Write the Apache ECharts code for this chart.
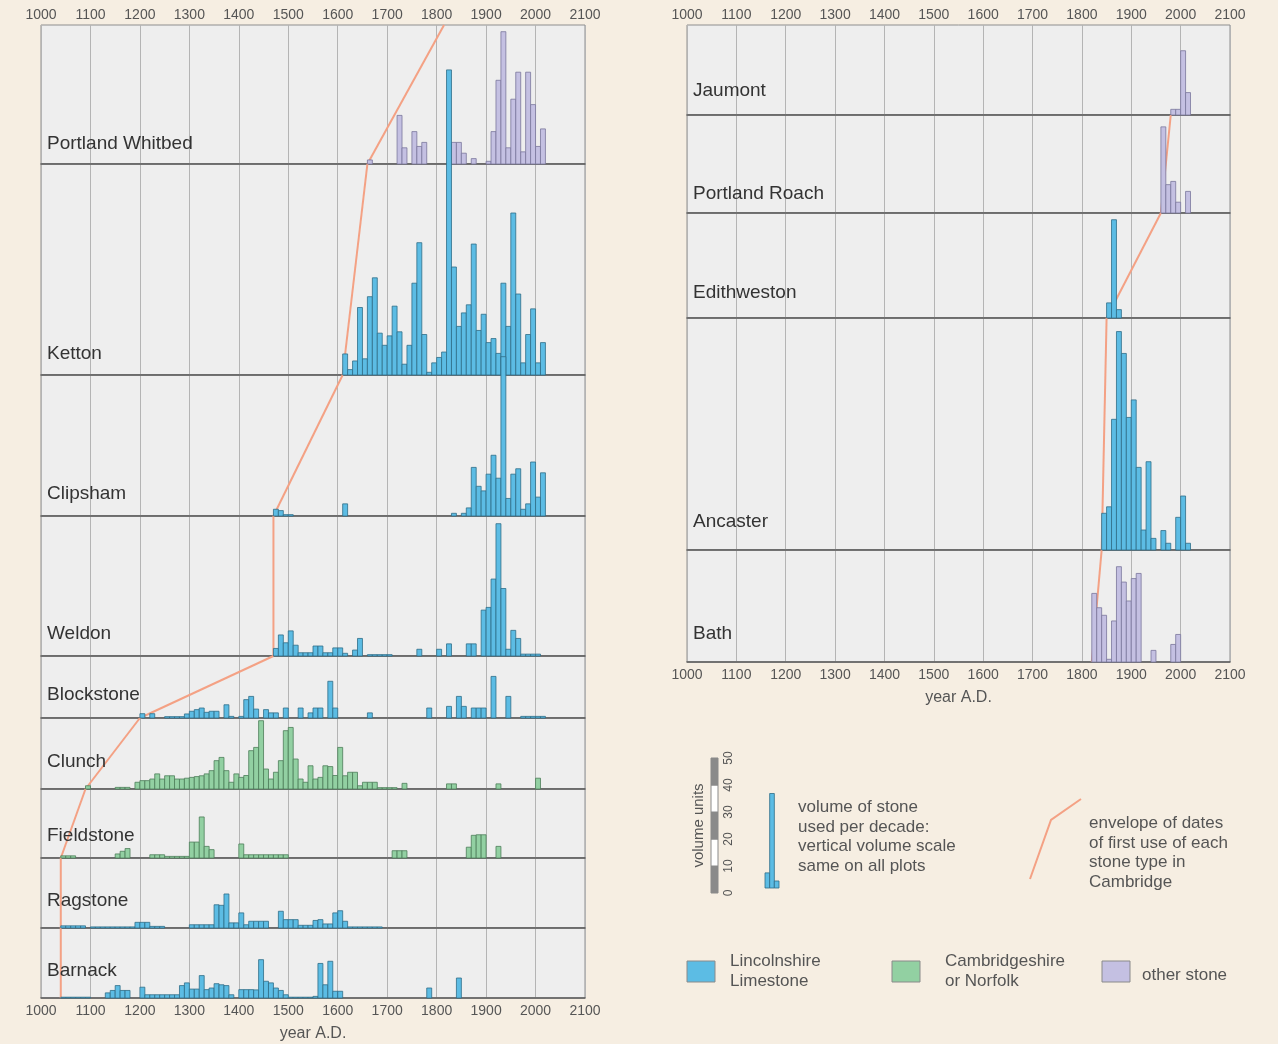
<!DOCTYPE html>
<html>
<head>
<meta charset="utf-8">
<script src="https://cdn.jsdelivr.net/npm/echarts@6/dist/echarts.min.js"></script>
<style>
  html, body { margin: 0; padding: 0; background: #f6eee2; }
  #chart { width: 1278px; height: 1044px; }
</style>
</head>
<body>
<div id="chart"></div>
<script>
// ---- axis settings -------------------------------------------------------
const yearMin = 1000;
const yearMax = 2100;
const yearStep = 100;
const decade = 10;
// one volume unit drawn as this many px on every plot
const PX_PER_UNIT = 2.7;

// ---- volume of stone used per decade: [decade start, volume units] -------
const portlandWhitbed = [[1660,1.5],[1720,18],[1730,6],[1750,12],[1760,6.5],[1770,8],[1830,8],[1840,8],[1850,4],[1870,2],[1900,1],[1910,12],[1920,31],[1930,49],[1940,6],[1950,24],[1960,34],[1970,4.5],[1980,34],[1990,22],[2000,6.5],[2010,13]];
const ketton = [[1610,7.8],[1620,2],[1630,5.2],[1640,25],[1650,6],[1660,29],[1670,36],[1680,15.5],[1690,11],[1700,14.5],[1710,25.5],[1720,16],[1730,4],[1740,11],[1750,34],[1760,49],[1770,15],[1780,1],[1790,4.5],[1800,6.5],[1810,8.5],[1820,113],[1830,40],[1840,18],[1850,23],[1860,26],[1870,48.5],[1880,16.5],[1890,22.5],[1900,12],[1910,13.5],[1920,8],[1930,34],[1940,18],[1950,60],[1960,30],[1970,4.5],[1980,15],[1990,24.5],[2000,4.5],[2010,12]];
const clipsham = [[1470,2.5],[1480,2],[1490,0.5],[1500,0.5],[1610,4.5],[1830,1],[1850,1],[1860,3],[1870,18],[1880,11],[1890,9.3],[1900,15.5],[1910,22.5],[1920,14],[1930,59],[1940,6.5],[1950,15.5],[1960,17.5],[1970,2.5],[1980,4.5],[1990,20],[2000,7],[2010,16]];
const weldon = [[1470,2.8],[1480,7.8],[1490,4.9],[1500,9.3],[1510,4],[1520,1.2],[1530,1.2],[1540,1.2],[1550,3.7],[1560,3.7],[1570,1.2],[1580,1.2],[1590,3],[1600,3],[1610,1],[1630,2.2],[1640,6.5],[1660,0.5],[1670,0.5],[1680,0.5],[1690,0.5],[1700,0.5],[1760,2.5],[1800,2.5],[1820,4.5],[1860,4.5],[1870,4.5],[1890,17],[1900,18],[1910,28.5],[1920,49],[1930,25],[1940,2.5],[1950,9.5],[1960,6.5],[1970,0.7],[1980,0.7],[1990,0.7],[2000,0.7]];
const blockstone = [[1200,1.6],[1220,1.6],[1250,0.5],[1260,0.5],[1270,0.5],[1280,0.5],[1290,1.5],[1300,2.5],[1310,3.1],[1320,3.7],[1330,2.1],[1340,2.5],[1350,2.5],[1370,4.9],[1380,0.6],[1400,0.6],[1410,6.8],[1420,8],[1430,3.3],[1450,3.1],[1460,1.9],[1470,1.9],[1490,3.7],[1520,3.7],[1540,1.9],[1550,3.7],[1560,3.7],[1580,13.6],[1590,3.7],[1660,1.9],[1780,3.7],[1820,4.3],[1840,8],[1850,4.3],[1870,3.7],[1880,3.7],[1890,3.7],[1910,15.4],[1940,8],[1970,0.6],[1980,0.6],[1990,0.6],[2000,0.6],[2010,0.6]];
const clunch = [[1090,1.2],[1150,0.6],[1160,0.6],[1170,0.6],[1190,2.5],[1200,3.1],[1210,3.1],[1220,3.7],[1230,5.6],[1240,3.7],[1250,4.9],[1260,4.9],[1270,3.7],[1280,3.7],[1290,4],[1300,4.3],[1310,4.6],[1320,4.9],[1330,5.6],[1340,6.8],[1350,10.5],[1360,11.7],[1370,6.8],[1380,2.5],[1390,5.6],[1400,4.3],[1410,5],[1420,14.2],[1430,15.4],[1440,25.3],[1450,7.4],[1460,3.7],[1470,6.2],[1480,10.5],[1490,21.6],[1500,22.8],[1510,11.1],[1520,3.7],[1530,2.5],[1540,8.6],[1550,3.7],[1560,4.3],[1570,8.6],[1580,8.3],[1590,5],[1600,15.4],[1610,4.9],[1620,6.2],[1630,6.2],[1640,1.2],[1650,2.5],[1660,2.5],[1670,2.5],[1680,0.5],[1690,0.5],[1700,0.5],[1710,0.5],[1730,2.1],[1820,1.9],[1830,1.9],[1920,1.9],[2000,4]];
const fieldstone = [[1040,0.8],[1050,0.8],[1060,0.8],[1150,1.5],[1160,2.5],[1170,3.5],[1220,1.2],[1230,1.2],[1240,1.2],[1250,0.6],[1260,0.6],[1270,0.6],[1280,0.6],[1290,0.6],[1300,5.9],[1310,5.9],[1320,15.2],[1330,4.3],[1340,3.1],[1400,5.2],[1410,1.2],[1420,1.2],[1430,1.2],[1440,1.2],[1450,1.2],[1460,1.2],[1470,1.2],[1480,1.2],[1490,1.2],[1710,2.7],[1720,2.7],[1730,2.7],[1860,4],[1870,8.4],[1880,8.6],[1890,8.6],[1920,4.3]];
const ragstone = [[1040,0.8],[1050,0.8],[1060,0.8],[1070,0.8],[1080,0.8],[1100,0.4],[1110,0.4],[1120,0.4],[1130,0.4],[1140,0.4],[1150,0.4],[1160,0.4],[1170,0.4],[1180,0.4],[1190,2.1],[1200,2.1],[1210,2.1],[1220,0.6],[1230,0.6],[1240,0.6],[1300,1.2],[1310,1.2],[1320,1.2],[1330,1.2],[1340,1.2],[1350,8.6],[1360,8.4],[1370,12.6],[1380,1.9],[1390,1.9],[1400,5.6],[1410,1.2],[1420,2.5],[1430,2.5],[1440,2.5],[1450,2.5],[1480,6.2],[1490,3.1],[1500,3.1],[1510,3.1],[1520,1],[1530,1],[1540,1],[1550,2.8],[1560,3.1],[1570,1.5],[1580,1.5],[1590,5.6],[1600,6.4],[1610,2.5],[1620,0.4],[1630,0.4],[1640,0.4],[1650,0.4],[1660,0.4],[1670,0.4],[1680,0.4]];
const barnack = [[1040,0.3],[1050,0.3],[1060,0.3],[1070,0.3],[1080,0.3],[1090,0.3],[1130,1.9],[1140,2.8],[1150,4.6],[1160,2.8],[1170,2.8],[1200,4],[1210,1.2],[1220,1.2],[1230,1.2],[1240,1.2],[1250,1.2],[1260,1.2],[1270,1.2],[1280,4.6],[1290,5.6],[1300,3.3],[1310,3.3],[1320,8.3],[1330,3.1],[1340,3.7],[1350,5.3],[1360,4.9],[1370,4.6],[1380,1.2],[1400,3.1],[1410,3.1],[1420,3.1],[1430,3],[1440,14.2],[1450,6.2],[1460,5.6],[1470,3.7],[1480,2.8],[1490,1.2],[1500,0.3],[1510,0.3],[1520,0.3],[1530,0.3],[1540,0.3],[1550,0.6],[1560,12.8],[1570,4.9],[1580,13.6],[1590,2.5],[1600,2.5],[1780,3.7],[1840,7.4]];

const jaumont = [[1980,2.1],[1990,2.1],[2000,23.8],[2010,8.3]];
const portlandRoach = [[1960,31.9],[1970,10.5],[1980,11.7],[1990,4],[2010,8]];
const edithweston = [[1850,5.6],[1860,36.4],[1870,3.1]];
const ancaster = [[1840,13.6],[1850,16],[1860,48.4],[1870,80.9],[1880,72.8],[1890,49.1],[1900,55.6],[1910,30.6],[1920,7.4],[1930,32.7],[1940,4.3],[1960,7.2],[1970,2.5],[1990,12.1],[2000,20],[2010,2.5]];
const bath = [[1820,25.4],[1830,20.1],[1840,17.3],[1850,1],[1860,15.2],[1870,35.3],[1880,29.6],[1890,22.6],[1900,30.9],[1910,32.8],[1940,4.3],[1980,6.5],[1990,10.2]];

// decade of first use in Cambridge, listed top row to bottom row
const firstUseLeft = [1660, 1610, 1470, 1470, 1200, 1090, 1040, 1040, 1040];
const envelopeTopLeft = 1815;
const firstUseRight = [1980, 1960, 1850, 1840, 1820];

// legend: volume scale steps and a sample of decade bars
const scaleSteps = [[0, 10], [10, 20], [20, 30], [30, 40], [40, 50]];
const scaleMax = 50;
const sampleBars = [[0, 5.6], [1, 35], [2, 2.6]];

// ---- styles --------------------------------------------------------------
const FONT = '"Liberation Sans", Arial, Helvetica, sans-serif';
const stoneStyles = {
  lincs: { fill: '#5cbce4', stroke: '#2f6d88' },
  cambs: { fill: '#92d0a2', stroke: '#4c7d59' },
  other: { fill: '#c4c0e2', stroke: '#7a769c' }
};
const envelopeColor = '#f4a184';

// ---- panel layout (px) ---------------------------------------------------
const panels = {
  left:  { x0: 41,  x1: 585, top: 25 },
  right: { x0: 687, x1: 1230, top: 25 }
};
// labelUp: distance of the row title's centre above the row baseline
const leftRows = [
  { name: 'Portland Whitbed', data: portlandWhitbed, stone: 'other', base: 164, labelUp: 20 },
  { name: 'Ketton',      data: ketton,      stone: 'lincs', base: 375, labelUp: 21 },
  { name: 'Clipsham',    data: clipsham,    stone: 'lincs', base: 516, labelUp: 22 },
  { name: 'Weldon',      data: weldon,      stone: 'lincs', base: 656, labelUp: 22 },
  { name: 'Blockstone',  data: blockstone,  stone: 'lincs', base: 718, labelUp: 23 },
  { name: 'Clunch',      data: clunch,      stone: 'cambs', base: 789, labelUp: 27 },
  { name: 'Fieldstone',  data: fieldstone,  stone: 'cambs', base: 858, labelUp: 22 },
  { name: 'Ragstone',    data: ragstone,    stone: 'lincs', base: 928, labelUp: 27 },
  { name: 'Barnack',     data: barnack,     stone: 'lincs', base: 998, labelUp: 27 }
];
const rightRows = [
  { name: 'Jaumont',        data: jaumont,       stone: 'other', base: 115, labelUp: 24 },
  { name: 'Portland Roach', data: portlandRoach, stone: 'other', base: 213, labelUp: 19 },
  { name: 'Edithweston',    data: edithweston,   stone: 'lincs', base: 318, labelUp: 25 },
  { name: 'Ancaster',       data: ancaster,      stone: 'lincs', base: 550, labelUp: 28 },
  { name: 'Bath',           data: bath,          stone: 'other', base: 662, labelUp: 28 }
];

function barRenderer(style, width) {
  return function (params, api) {
    const start = api.value(0);
    const vol = api.value(1);
    const bl = api.coord([start, 0]);
    const tr = api.coord([start + width, vol]);
    return {
      type: 'rect',
      shape: { x: bl[0], y: tr[1], width: tr[0] - bl[0], height: bl[1] - tr[1] },
      style: { fill: style.fill, stroke: style.stroke, lineWidth: 0.8 }
    };
  };
}

const grid = [], xAxis = [], yAxis = [], series = [], graphic = [];
const axisText = {
  color: '#555', fontSize: 14, fontFamily: FONT,
  formatter: function (v) { return String(v); }
};

function addPanel(panel, rows, firstUse, envelopeTop) {
  rows.forEach(function (row, i) {
    const top = i === 0 ? panel.top : rows[i - 1].base;
    const h = row.base - top;
    const gi = grid.length;
    const ymax = h / PX_PER_UNIT;
    const isBottom = i === rows.length - 1;
    grid.push({
      left: panel.x0, top: top, width: panel.x1 - panel.x0, height: h,
      show: true, backgroundColor: '#eeeeee', borderColor: '#8e8e8e', borderWidth: 1
    });
    const xi = xAxis.length;
    xAxis.push({
      gridIndex: gi, type: 'value', min: yearMin, max: yearMax, interval: yearStep,
      position: 'bottom',
      axisLine: { show: true, onZero: false, lineStyle: { color: '#5a5a5a', width: 1.5 } },
      axisTick: { show: false },
      axisLabel: Object.assign({ show: isBottom, margin: 6 }, axisText),
      splitLine: { show: true, lineStyle: { color: '#b4b4b4', width: 1 } },
      name: isBottom ? 'year A.D.' : '', nameLocation: 'middle', nameGap: 28,
      nameTextStyle: { color: '#555', fontSize: 16, fontFamily: FONT }
    });
    if (i === 0) {
      xAxis.push({
        gridIndex: gi, type: 'value', min: yearMin, max: yearMax, interval: yearStep,
        position: 'top',
        axisLine: { show: false }, axisTick: { show: false }, splitLine: { show: false },
        axisLabel: Object.assign({ show: true, margin: 3 }, axisText)
      });
    }
    const yi = yAxis.length;
    yAxis.push({ gridIndex: gi, type: 'value', min: 0, max: ymax, show: false });

    // envelope of first-use dates across this row
    const upper = i === 0 ? envelopeTop : firstUse[i - 1];
    if (upper != null) {
      series.push({
        type: 'line', xAxisIndex: xi, yAxisIndex: yi, z: 1,
        data: [[firstUse[i], 0], [upper, ymax]],
        showSymbol: false, silent: true, animation: false,
        lineStyle: { color: envelopeColor, width: 2 }
      });
    }

    series.push({
      type: 'custom', xAxisIndex: xi, yAxisIndex: yi, z: 3, clip: false,
      data: row.data, renderItem: barRenderer(stoneStyles[row.stone], decade),
      animation: false
    });

    graphic.push({
      type: 'text', z: 10,
      style: {
        x: panel.x0 + 6, y: row.base - row.labelUp, text: row.name,
        fill: '#333', font: '19px ' + FONT, verticalAlign: 'middle'
      }
    });
  });
}

addPanel(panels.left, leftRows, firstUseLeft, envelopeTopLeft);
addPanel(panels.right, rightRows, firstUseRight, null);

// ---- legend: volume scale ------------------------------------------------
const scaleBase = 893;
const scaleH = scaleMax * PX_PER_UNIT;
let gi = grid.length;
grid.push({ left: 711, top: scaleBase - scaleH, width: 7, height: scaleH });
let xi = xAxis.length;
xAxis.push({ gridIndex: gi, type: 'value', min: 0, max: 1, show: false });
let yi = yAxis.length;
yAxis.push({
  gridIndex: gi, type: 'value', min: 0, max: scaleMax, interval: 10, position: 'right',
  axisLine: { show: false }, axisTick: { show: false }, splitLine: { show: false },
  axisLabel: { rotate: 90, margin: 5, color: '#555', fontSize: 12, fontFamily: FONT }
});
yAxis.push({
  gridIndex: gi, type: 'value', min: 0, max: scaleMax, position: 'left',
  axisLine: { show: false }, axisTick: { show: false }, splitLine: { show: false },
  axisLabel: { show: false },
  name: 'volume units', nameLocation: 'middle', nameRotate: 90, nameGap: 5,
  nameTextStyle: { color: '#555', fontSize: 15, fontFamily: FONT }
});
series.push({
  type: 'custom', xAxisIndex: xi, yAxisIndex: yi, data: scaleSteps, animation: false,
  renderItem: function (params, api) {
    const lo = api.coord([0, api.value(0)]);
    const hi = api.coord([1, api.value(1)]);
    return {
      type: 'rect',
      shape: { x: lo[0], y: hi[1], width: hi[0] - lo[0], height: lo[1] - hi[1] },
      style: { fill: params.dataIndex % 2 ? '#ffffff' : '#8a8a8a', stroke: '#8a8a8a', lineWidth: 1 }
    };
  }
});

// ---- legend: sample decade bars -----------------------------------------
gi = grid.length;
grid.push({ left: 765, top: 888 - scaleH, width: 14, height: scaleH });
xi = xAxis.length;
xAxis.push({ gridIndex: gi, type: 'value', min: 0, max: 3, show: false });
yi = yAxis.length;
yAxis.push({ gridIndex: gi, type: 'value', min: 0, max: scaleMax, show: false });
series.push({
  type: 'custom', xAxisIndex: xi, yAxisIndex: yi, data: sampleBars, animation: false,
  renderItem: barRenderer(stoneStyles.lincs, 1)
});

// ---- legend texts and swatches -------------------------------------------
const legendFont = '17px ' + FONT;
function textBlock(x, y, lines) {
  graphic.push({
    type: 'text', left: x, top: y,
    style: { text: lines.join('\n'), fill: '#555', font: legendFont, lineHeight: 19.5 }
  });
}
textBlock(798, 798, ['volume of stone', 'used per decade:', 'vertical volume scale', 'same on all plots']);
textBlock(1089, 814, ['envelope of dates', 'of first use of each', 'stone type in', 'Cambridge']);
graphic.push({
  type: 'polyline',
  shape: { points: [[1030, 879], [1051, 820], [1081, 799]] },
  style: { stroke: envelopeColor, lineWidth: 2, fill: null }
});
const swatches = [
  { x: 687,  stone: 'lincs', lines: ['Lincolnshire', 'Limestone'], tx: 730, ty: 952 },
  { x: 892,  stone: 'cambs', lines: ['Cambridgeshire', 'or Norfolk'], tx: 945, ty: 952 },
  { x: 1102, stone: 'other', lines: ['other stone'], tx: 1142, ty: 966 }
];
swatches.forEach(function (s) {
  graphic.push({
    type: 'rect', shape: { x: s.x, y: 961, width: 28, height: 21 },
    style: { fill: stoneStyles[s.stone].fill, stroke: '#8a8a8a', lineWidth: 1 }
  });
  textBlock(s.tx, s.ty, s.lines);
});

const chart = echarts.init(document.getElementById('chart'), null, { renderer: 'canvas' });
chart.setOption({
  backgroundColor: '#f6eee2',
  animation: false,
  grid: grid, xAxis: xAxis, yAxis: yAxis, series: series, graphic: graphic
});
</script>
</body>
</html>
